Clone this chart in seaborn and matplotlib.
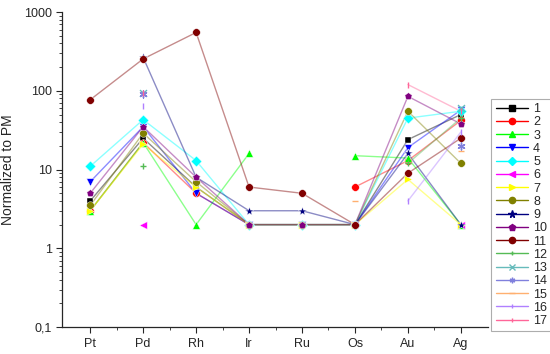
import numpy as np
import pandas as pd
import seaborn as sns
import matplotlib.pyplot as plt
from matplotlib.lines import Line2D
from matplotlib.ticker import FixedLocator, LogLocator, NullFormatter

nan = np.nan

# Elements on the x axis
elements = ['Pt', 'Pd', 'Rh', 'Ir', 'Ru', 'Os', 'Au', 'Ag']

# Values normalized to primitive mantle, one list per sample (nan = not measured)
s1 = [4, 25, 6, 2, 2, 2, 24, 50]
s2 = [3, 22, 5, 2, nan, 6, 13, 42]
s3 = [3, 22, 2, 16, nan, 15, 14, 2]
s4 = [7, 35, 5, 2, 2, 2, 19, 57]
s5 = [11, 43, 13, 2, 2, 2, 45, 55]
s6 = [nan, 2, nan, nan, nan, nan, nan, 2]
s7 = [3, 21, 6, 2, 2, 2, 7.5, 2]
s8 = [3.5, 29, 7, 2, 2, 2, 55, 12]
s9 = [nan, 265, 8, 3, 3, 2, 16, 2]
s10 = [5, 35, 8, 2, 2, 2, 85, 38]
s11 = [77, 254, 550, 6, 5, 2, 9, 25]
s12 = [nan, 11, nan, nan, nan, nan, 12, 45]
s13 = [nan, 95, nan, nan, nan, nan, nan, 60]
s14 = [nan, 92, nan, nan, nan, nan, nan, 20]
s15 = [nan, nan, nan, nan, nan, 4, nan, 17]
s16 = [nan, 65, nan, nan, nan, nan, 4, 30]
s17 = [nan, 95, nan, nan, nan, nan, 120, 55]

series = [s1, s2, s3, s4, s5, s6, s7, s8, s9, s10, s11, s12, s13, s14, s15, s16, s17]
labels = [str(i) for i in range(1, 18)]

colors = ['#000000', '#ff0000', '#00ff00', '#0000ff', '#00ffff', '#ff00ff', '#ffff00',
          '#808000', '#000080', '#800080', '#800000', '#55bb55', '#66bbbb', '#8080dd',
          '#ffb070', '#b080ff', '#ff6699']
markers = ['s', 'o', '^', 'v', 'D', '<', '>', 'o', '*', 'p', 'o', '+', 'x', (6, 2, 0),
           '_', '|', '|']
msizes = [5, 5.5, 5.5, 5.5, 5.5, 5.5, 5.5, 5.5, 6.5, 5.5, 5.5, 4.5, 5, 5, 5, 4.5, 4]
thin = ['+', 'x', '_', '|', (6, 2, 0)]

sns.set_style('ticks')
plt.rcParams['font.family'] = ['Liberation Sans', 'DejaVu Sans']

fig = plt.figure(figsize=(5.5, 3.54), dpi=100)
ax = fig.add_axes([0.113, 0.076, 0.774, 0.89])

x = np.arange(len(elements))
handles = []
for vals, lab, c, m, ms in zip(series, labels, colors, markers, msizes):
    df = pd.DataFrame({'x': x, 'y': vals})
    # split into contiguous runs so gaps break the line
    run = df['y'].isna().cumsum()
    for _, seg in df.dropna().groupby(run[df['y'].notna()]):
        if len(seg) > 1:
            sns.lineplot(data=seg, x='x', y='y', color=c, alpha=0.45, lw=1.0,
                         ax=ax, legend=False, estimator=None, sort=False)
    pts = df.dropna()
    sns.scatterplot(data=pts, x='x', y='y', color=c, marker=m, s=ms ** 2,
                    linewidth=1 if m in thin else 0.3,
                    edgecolor=c if m in thin else 'white',
                    ax=ax, legend=False, zorder=3)
    handles.append(Line2D([], [], color=c, alpha=1, lw=1.0, marker=m, markersize=ms - 1,
                          markeredgecolor=c, markerfacecolor=c))

ax.set_yscale('log')
ax.set_ylim(0.1, 1000)
ax.set_xlim(-0.53, 7.51)
ax.set_xticks(x)
ax.set_xticklabels(elements)
ax.xaxis.set_minor_locator(FixedLocator(x[:-1] + 0.5))
ax.set_yticks([0.1, 1, 10, 100, 1000])
ax.set_yticklabels(['0,1', '1', '10', '100', '1000'])
ax.yaxis.set_minor_locator(LogLocator(base=10, subs=np.arange(2, 10)))
ax.yaxis.set_minor_formatter(NullFormatter())
ax.tick_params(axis='both', which='major', direction='out', length=4, width=0.8,
               labelsize=9)
ax.tick_params(axis='both', which='minor', direction='out', length=2, width=0.6)
ax.set_xlabel('')
ax.set_ylabel('Normalized to PM', fontsize=10, labelpad=6)
sns.despine(ax=ax)
for sp in ['left', 'bottom']:
    ax.spines[sp].set_linewidth(0.9)

leg = ax.legend(handles, labels, loc='upper left', bbox_to_anchor=(1.008, 0.725),
                fontsize=9, frameon=True, fancybox=False, edgecolor='#999999',
                handlelength=2.6, labelspacing=0.1, borderpad=0.35, handletextpad=0.4,
                borderaxespad=0)
leg.get_frame().set_linewidth(0.8)

fig.savefig('out.png', dpi=100)
